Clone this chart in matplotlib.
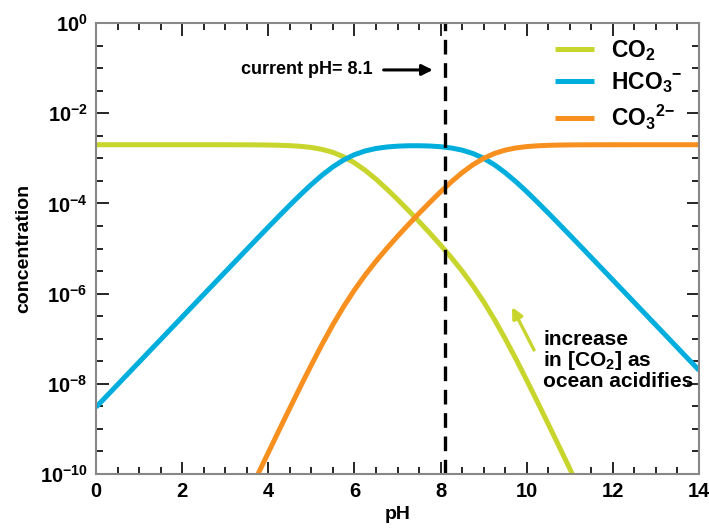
import numpy as np
import matplotlib
matplotlib.use("Agg")
import matplotlib.pyplot as plt
from matplotlib.ticker import FixedLocator, FuncFormatter, NullFormatter

plt.rcParams['font.family'] = ['Liberation Sans', 'DejaVu Sans']
plt.rcParams['font.weight'] = 'bold'
plt.rcParams['mathtext.fontset'] = 'custom'
plt.rcParams['mathtext.rm'] = 'Liberation Sans:bold'
plt.rcParams['mathtext.it'] = 'Liberation Sans:bold'
plt.rcParams['mathtext.bf'] = 'Liberation Sans:bold'

# pH grid and concentrations
ph = [0, 0.5, 1, 1.5, 2, 2.5, 3, 3.5, 3.75, 4, 4.25, 4.5, 4.75, 5, 5.25, 5.5,
      5.75, 6, 6.25, 6.5, 6.75, 7, 7.25, 7.5, 7.75, 8, 8.25, 8.5, 8.75, 9,
      9.25, 9.5, 9.75, 10, 10.25, 10.5, 10.75, 11, 11.25, 11.5, 12, 12.5,
      13, 13.5, 14]

co2 = [2.0e-3, 2.0e-3, 2.0e-3, 2.0e-3, 2.0e-3, 2.0e-3, 1.997e-3, 1.990e-3,
       1.983e-3, 1.970e-3, 1.948e-3, 1.909e-3, 1.843e-3, 1.737e-3, 1.576e-3,
       1.353e-3, 1.080e-3, 7.95e-4, 5.41e-4, 3.45e-4, 2.09e-4, 1.23e-4,
       7.04e-5, 3.97e-5, 2.20e-5, 1.19e-5, 6.29e-6, 3.17e-6, 1.50e-6, 6.60e-7,
       2.67e-7, 1.00e-7, 3.55e-8, 1.20e-8, 3.96e-9, 1.28e-9, 4.11e-10,
       1.31e-10, 4.16e-11, 1.3e-11, np.nan, np.nan, np.nan, np.nan, np.nan]

hco3 = [3.03e-9, 9.57e-9, 3.03e-8, 9.57e-8, 3.03e-7, 9.57e-7, 3.02e-6, 9.53e-6,
        1.69e-5, 2.98e-5, 5.24e-5, 9.14e-5, 1.57e-4, 2.63e-4, 4.24e-4,
        6.47e-4, 9.19e-4, 1.204e-3, 1.456e-3, 1.650e-3, 1.781e-3, 1.859e-3,
        1.896e-3, 1.900e-3, 1.873e-3, 1.808e-3, 1.693e-3, 1.517e-3, 1.279e-3,
        1.000e-3, 7.20e-4, 4.80e-4, 3.02e-4, 1.82e-4, 1.06e-4, 6.13e-5,
        3.49e-5, 1.98e-5, 1.12e-5, 6.31e-6, 2.00e-6, 6.32e-7, 2.00e-7,
        6.32e-8, 2.00e-8]

co3 = [np.nan, np.nan, np.nan, np.nan, np.nan, np.nan, 3.0e-12, 3.01e-11,
       9.49e-11, 2.98e-10, 9.32e-10, 2.89e-9, 8.82e-9, 2.63e-8, 7.54e-8,
       2.05e-7, 5.17e-7, 1.20e-6, 2.59e-6, 5.22e-6, 1.00e-5, 1.86e-5, 3.37e-5,
       6.01e-5, 1.05e-4, 1.81e-4, 3.01e-4, 4.80e-4, 7.19e-4, 1.000e-3,
       1.280e-3, 1.520e-3, 1.698e-3, 1.818e-3, 1.894e-3, 1.939e-3, 1.965e-3,
       1.980e-3, 1.989e-3, 1.994e-3, 1.998e-3, 2.0e-3, 2.0e-3, 2.0e-3, 2.0e-3]

current_ph = 8.1

c_co2 = '#C8D52C'
c_hco3 = '#00AEDD'
c_co3 = '#F7901E'

fig = plt.figure(figsize=(7.09, 5.31), dpi=100)
ax = fig.add_axes([0.1354, 0.1073, 0.8505, 0.8494])

ax.plot(ph, co2, color=c_co2, lw=3.6, label='CO$_2$', solid_capstyle='butt')
ax.plot(ph, hco3, color=c_hco3, lw=3.6, label='HCO$_3$$^{\\mathrm{-}}$', solid_capstyle='butt')
ax.plot(ph, co3, color=c_co3, lw=3.6, label='CO$_3$$^{2\\mathrm{-}}$', solid_capstyle='butt')

ax.axvline(current_ph, color='black', lw=2.4, dashes=(4.4, 2.6))

ax.set_yscale('log')
ax.set_xlim(0, 14)
ax.set_ylim(1e-10, 1)

ax.set_xticks(range(0, 15, 2))
ax.xaxis.set_minor_locator(FixedLocator(np.arange(0, 14.01, 0.5)))
ax.yaxis.set_major_locator(FixedLocator([10.0 ** e for e in range(-10, 1, 2)]))
ax.yaxis.set_minor_locator(FixedLocator([10.0 ** (e / 2) for e in range(-20, 1)]))
ax.yaxis.set_major_formatter(FuncFormatter(lambda v, p: r'$10^{\mathrm{%d}}$' % round(np.log10(v))))
ax.yaxis.set_minor_formatter(NullFormatter())

ax.tick_params(which='both', direction='in', top=True, right=True,
               color='black', width=1.2, labelsize=14.5)
ax.tick_params(which='major', length=9, pad=6)
ax.tick_params(which='minor', length=5)
for s in ax.spines.values():
    s.set_color('#888888')
    s.set_linewidth(1.5)

ax.set_xlabel('pH', fontsize=14, fontweight='bold')
ax.set_ylabel('concentration', fontsize=14, fontweight='bold')
ax.xaxis.set_label_coords(0.5, -0.07)
ax.yaxis.set_label_coords(-0.105, 0.5)

leg = ax.legend(loc='upper left', bbox_to_anchor=(0.727, 1.012), frameon=False,
                fontsize=16.5, handlelength=1.7, handletextpad=0.75, labelspacing=0.32)

ax.annotate('current pH= 8.1', xy=(7.82, 0.091), xytext=(6.42, 0.091),
            ha='right', va='center', fontsize=13, fontweight='bold',
            arrowprops=dict(arrowstyle='-|>', color='black', lw=2.2,
                            mutation_scale=16, shrinkA=6, shrinkB=0))

ax.annotate('', xy=(9.66, 10 ** -6.30), xytext=(10.17, 10 ** -7.25),
            arrowprops=dict(arrowstyle='-|>', color=c_co2, lw=2.4,
                            mutation_scale=16, shrinkA=0, shrinkB=0))
ax.text(10.38, 10 ** -7.48, 'increase\nin [CO$_2$] as\nocean acidifies',
        ha='left', va='center', fontsize=15, fontweight='bold', linespacing=1.0)

fig.savefig('out.png', dpi=100)
